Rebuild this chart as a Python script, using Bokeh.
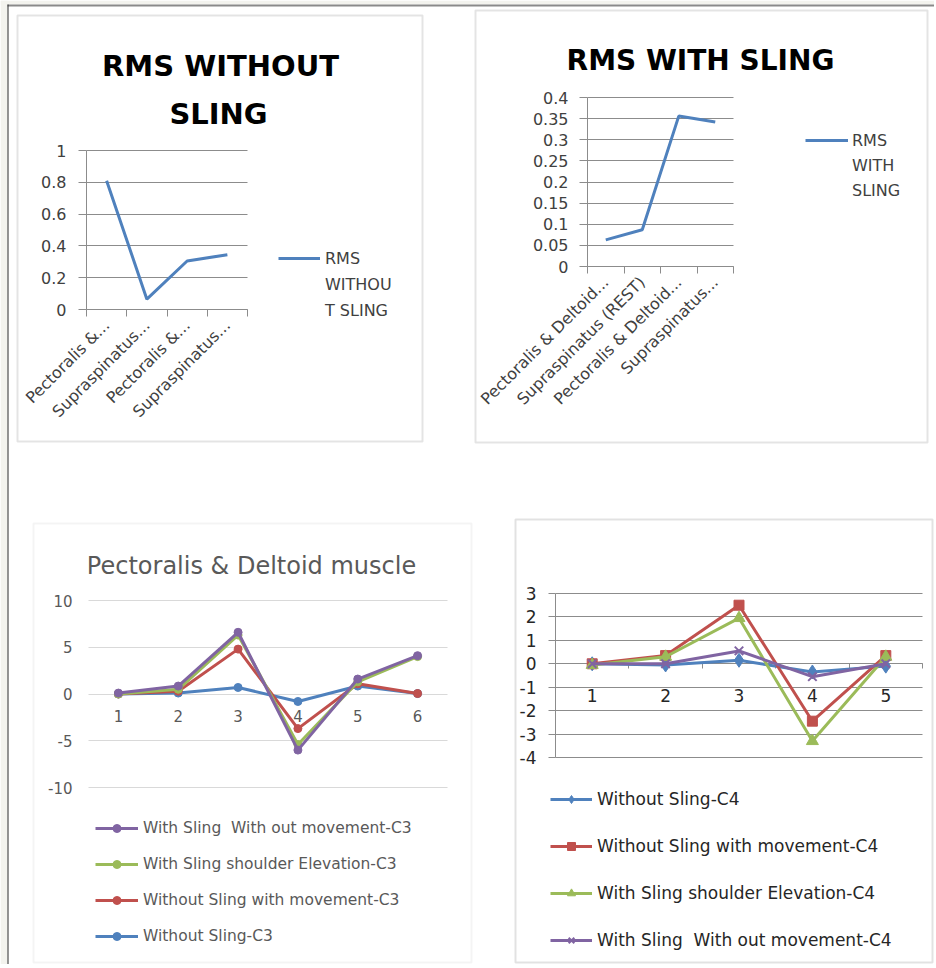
from math import pi
from bokeh.plotting import figure
from bokeh.models import (Range1d, FixedTicker, Label, Legend, LegendItem, LinearAxis,
                          Grid, BoxAnnotation)
from bokeh.embed import file_html
from bokeh.resources import INLINE

FONT = "DejaVu Sans"
BLUE, RED, GREEN, PURPLE = "#4F81BD", "#C0504D", "#9BBB59", "#8064A2"
GRID_DARK = "#8c8c8c"
GRID_LIGHT = "#d9d9d9"
PAGE_BG = "#f3f3ee"

# ---------------- data ----------------
rms_without_labels = ["Pectoralis &...", "Supraspinatus...", "Pectoralis &...", "Supraspinatus..."]
rms_without_values = [0.81, 0.065, 0.305, 0.345]
rms_without_yticks = [0, 0.2, 0.4, 0.6, 0.8, 1]
rms_without_ytick_labels = ["0", "0.2", "0.4", "0.6", "0.8", "1"]

rms_with_labels = ["Pectoralis & Deltoid...", "Supraspinatus (REST)", "Pectoralis & Deltoid...", "Supraspinatus..."]
rms_with_values = [0.063, 0.087, 0.356, 0.342]
rms_with_yticks = [0, 0.05, 0.1, 0.15, 0.2, 0.25, 0.3, 0.35, 0.4]
rms_with_ytick_labels = ["0", "0.05", "0.1", "0.15", "0.2", "0.25", "0.3", "0.35", "0.4"]

c3_x = [1, 2, 3, 4, 5, 6]
c3_without_sling = [0.0, 0.1, 0.7, -0.8, 0.85, 0.05]
c3_without_sling_move = [0.0, 0.3, 4.8, -3.7, 1.1, 0.05]
c3_with_sling_elev = [0.0, 0.5, 6.3, -5.4, 1.3, 4.0]
c3_with_sling_nomove = [0.1, 0.85, 6.6, -6.0, 1.6, 4.1]
c3_yticks = [-10, -5, 0, 5, 10]
c3_ytick_labels = ["-10", "-5", "0", "5", "10"]

c4_x = [1, 2, 3, 4, 5]
c4_without_sling = [0.0, -0.05, 0.15, -0.35, -0.1]
c4_without_sling_move = [0.0, 0.35, 2.5, -2.45, 0.35]
c4_with_sling_elev = [-0.05, 0.3, 1.95, -3.3, 0.3]
c4_with_sling_nomove = [0.0, 0.0, 0.55, -0.55, 0.0]
c4_yticks = [-4, -3, -2, -1, 0, 1, 2, 3]
c4_ytick_labels = ["-4", "-3", "-2", "-1", "0", "1", "2", "3"]

# ---------------- layout (canvas pixels) ----------------
W, H = 934, 964          # canvas size; the canvas sits at page (0, 0)
OX, OY = 0, 0


def xr(d0, d1, page0, page1):
    c0, c1 = page0 - OX, page1 - OX
    s = (d1 - d0) / (c1 - c0)
    return Range1d(d0 - c0 * s, d1 + (W - c1) * s)


def yr(d0, d1, page_bottom, page_top):
    b0, b1 = H - (page_bottom - OY), H - (page_top - OY)
    s = (d1 - d0) / (b1 - b0)
    return Range1d(d0 - b0 * s, d1 + (H - b1) * s)


p = figure(width=W, height=H, x_range=Range1d(0, W), y_range=Range1d(H, 0),
           x_axis_type=None, y_axis_type=None, output_backend="svg",
           toolbar_location=None, min_border=0, title="")
p.title.visible = False
p.outline_line_color = None
p.background_fill_color = "white"
p.border_fill_color = "white"

n1 = len(rms_without_values)
n2 = len(rms_with_values)
p.extra_x_ranges = {
    "p1x": xr(0, n1, 86, 247),
    "p2x": xr(0, n2, 587, 733),
    "p3x": xr(0.5, len(c3_x) + 0.5, 88, 447),
    "p4x": xr(0.5, len(c4_x) + 0.5, 555, 922),
}
p.extra_y_ranges = {
    "p1y": yr(0, 1, 309, 150),
    "p2y": yr(0, 0.4, 266, 97),
    "p3y": yr(-10, 10, 787, 600),
    "p4y": yr(-4, 3, 757, 593),
}

HAS_CROSS = "cross_bounds" in Grid.properties()


def fill_box(left, right, top, bottom, color):
    p.add_layout(BoxAnnotation(left=left, right=right, top=top, bottom=bottom,
                               fill_color=color, fill_alpha=1, line_color=None,
                               level="underlay"))


def panel_box(left, right, top, bottom, color):
    p.add_layout(BoxAnnotation(left=left - OX, right=right - OX, top=top - OY,
                               bottom=bottom - OY, fill_color=None, fill_alpha=0,
                               line_color=color, line_width=2, level="underlay"))


def y_axis(key, fix, bounds, ticks, labels, size, color, line_color, tick_out, standoff):
    ax = LinearAxis(x_range_name=key + "x", y_range_name=key + "y", fixed_location=fix,
                    bounds=bounds, ticker=FixedTicker(ticks=ticks),
                    major_label_overrides=dict(zip(ticks, labels)),
                    major_tick_in=0, major_tick_out=tick_out,
                    major_tick_line_color=line_color, minor_tick_line_color=None,
                    axis_line_color=line_color, major_label_standoff=standoff,
                    major_label_text_font=FONT, major_label_text_font_size=size,
                    major_label_text_color=color, level="underlay")
    p.add_layout(ax, "left")
    return ax


def x_axis(key, fix, bounds, ticks, minor, labels, size, color, line_color,
           minor_out, standoff, orientation="horizontal"):
    ax = LinearAxis(x_range_name=key + "x", y_range_name=key + "y", fixed_location=fix,
                    bounds=bounds, ticker=FixedTicker(ticks=ticks, minor_ticks=minor),
                    major_tick_in=0, major_tick_out=0, major_tick_line_color=None,
                    minor_tick_in=0, minor_tick_out=minor_out,
                    minor_tick_line_color=line_color if minor else None,
                    axis_line_color=line_color, major_label_standoff=standoff,
                    major_label_orientation=orientation,
                    major_label_text_font=FONT, major_label_text_font_size=size,
                    major_label_text_color=color, level="underlay")
    if labels is not None:
        ax.major_label_overrides = dict(zip(ticks, labels))
    p.add_layout(ax, "below")
    return ax


def y_grid(key, ticks, cross, color):
    if HAS_CROSS:
        g = Grid(dimension=1, ticker=FixedTicker(ticks=ticks), x_range_name=key + "x",
                 y_range_name=key + "y", grid_line_color=color, grid_line_width=1,
                 cross_bounds=cross)
        p.add_layout(g)
    else:
        p.segment(x0=[cross[0]] * len(ticks), x1=[cross[1]] * len(ticks), y0=ticks, y1=ticks,
                  line_color=color, line_width=1, x_range_name=key + "x",
                  y_range_name=key + "y", level="underlay")


def title(text, x, y, size, bold, color):
    p.add_layout(Label(x=x - OX, y=y - OY, text=text, text_align="center",
                       text_baseline="alphabetic", text_font=FONT, text_font_size=size,
                       text_font_style="bold" if bold else "normal", text_color=color))


def legend(items, left, bottom, glyph_w, spacing, size, color, standoff=5):
    p.add_layout(Legend(items=items, location=(left - OX, H - (bottom - OY)),
                        orientation="vertical", glyph_width=glyph_w, glyph_height=20,
                        label_height=20, label_standoff=standoff, spacing=spacing,
                        padding=0, margin=0, border_line_color=None,
                        background_fill_alpha=0, label_text_font=FONT,
                        label_text_font_size=size, label_text_color=color), "center")


# ---------------- page frame ----------------
fill_box(0, 7, 0, H, PAGE_BG)
fill_box(0, W, 0, 4, PAGE_BG)
fill_box(7, W, 4, 6, "#8a8a8a")
fill_box(7, 8, 4, H, "#2a2a2a")

# ---------------- panel 1 : RMS WITHOUT SLING ----------------
panel_box(17, 422, 15, 441, "#a6a6a6")
x1 = [i + 0.5 for i in range(n1)]
y_grid("p1", rms_without_yticks, (0, n1), GRID_DARK)
y_axis("p1", 0, (0, 1), rms_without_yticks, rms_without_ytick_labels, "16px", "#404040",
       GRID_DARK, 8, 12)
x_axis("p1", 0, (0, n1), x1, list(range(n1 + 1)), rms_without_labels, "16px", "#404040",
       GRID_DARK, 7, 6, pi / 4)
r1 = p.line(x1, rms_without_values, line_color=BLUE, line_width=3,
            x_range_name="p1x", y_range_name="p1y")
title("RMS WITHOUT", 220, 65, "29px", True, "black")
title("SLING", 218, 113, "29px", True, "black")
legend([LegendItem(label="RMS", renderers=[r1]),
        LegendItem(label="WITHOU", renderers=[]),
        LegendItem(label="T SLING", renderers=[])], 278, 320, 42, 6, "16px", "#404040")

# ---------------- panel 2 : RMS WITH SLING ----------------
panel_box(475, 927, 10, 442, "#a6a6a6")
x2 = [i + 0.5 for i in range(n2)]
y_grid("p2", rms_with_yticks, (0, n2), GRID_DARK)
y_axis("p2", 0, (0, 0.4), rms_with_yticks, rms_with_ytick_labels, "16px", "#404040",
       GRID_DARK, 8, 11)
x_axis("p2", 0, (0, n2), x2, list(range(n2 + 1)), rms_with_labels, "16px", "#404040",
       GRID_DARK, 7, 6, pi / 4)
r2 = p.line(x2, rms_with_values, line_color=BLUE, line_width=3,
            x_range_name="p2x", y_range_name="p2y")
title("RMS WITH SLING", 700, 60, "28px", True, "black")
legend([LegendItem(label="RMS", renderers=[r2]),
        LegendItem(label="WITH", renderers=[]),
        LegendItem(label="SLING", renderers=[])], 805, 200, 43, 5, "16px", "#404040", 4)

# ---------------- panel 3 : Pectoralis & Deltoid muscle ----------------
panel_box(33, 471, 523, 962, "#d9d9d9")
y_grid("p3", c3_yticks, (0.5, len(c3_x) + 0.5), GRID_LIGHT)
y_axis("p3", 0.5, (-10, 10), c3_yticks, c3_ytick_labels, "15px", "#595959", None, 0, 16)
x_axis("p3", 0, (0.5, len(c3_x) + 0.5), c3_x, [], None, "15px", "#595959", None, 0, 16)
c3_series = [
    ("Without Sling-C3", c3_without_sling, BLUE),
    ("Without Sling with movement-C3", c3_without_sling_move, RED),
    ("With Sling shoulder Elevation-C3", c3_with_sling_elev, GREEN),
    ("With Sling  With out movement-C3", c3_with_sling_nomove, PURPLE),
]
c3_items = []
for name, vals, col in c3_series:
    l = p.line(c3_x, vals, line_color=col, line_width=3, x_range_name="p3x", y_range_name="p3y")
    s = p.scatter(c3_x, vals, marker="circle", size=8, fill_color=col, line_color=col,
                  x_range_name="p3x", y_range_name="p3y")
    c3_items.append(LegendItem(label=name, renderers=[l, s]))
title("Pectoralis & Deltoid muscle", 251, 565, "24px", False, "#595959")
legend(list(reversed(c3_items)), 95, 946, 43, 16, "15.5px", "#595959")

# ---------------- panel 4 : C4 ----------------
panel_box(515, 932, 519, 962, "#a0a0a0")
y_grid("p4", c4_yticks, (0.5, len(c4_x) + 0.5), GRID_DARK)
y_axis("p4", 0.5, (-4, 3), c4_yticks, c4_ytick_labels, "17px", "#262626", GRID_DARK, 7, 12)
x_axis("p4", 0, (0.5, len(c4_x) + 0.5), c4_x, [x - 0.5 for x in c4_x] + [c4_x[-1] + 0.5],
       None, "17px", "#262626", GRID_DARK, 5, 20)
c4_series = [
    ("Without Sling-C4", c4_without_sling, BLUE, "diamond", 14),
    ("Without Sling with movement-C4", c4_without_sling_move, RED, "square", 10),
    ("With Sling shoulder Elevation-C4", c4_with_sling_elev, GREEN, "triangle", 12),
    ("With Sling  With out movement-C4", c4_with_sling_nomove, PURPLE, "x", 12),
]
c4_items = []
for name, vals, col, mk, sz in c4_series:
    l = p.line(c4_x, vals, line_color=col, line_width=3, x_range_name="p4x", y_range_name="p4y")
    s = p.scatter(c4_x, vals, marker=mk, size=sz, fill_color=col, line_color=col,
                  line_width=2 if mk == "x" else 1, x_range_name="p4x", y_range_name="p4y")
    c4_items.append(LegendItem(label=name, renderers=[l, s]))
legend(c4_items, 550, 950, 42, 27, "17px", "#262626")

open("out.html", "w").write(file_html(p, INLINE, "RMS charts"))
